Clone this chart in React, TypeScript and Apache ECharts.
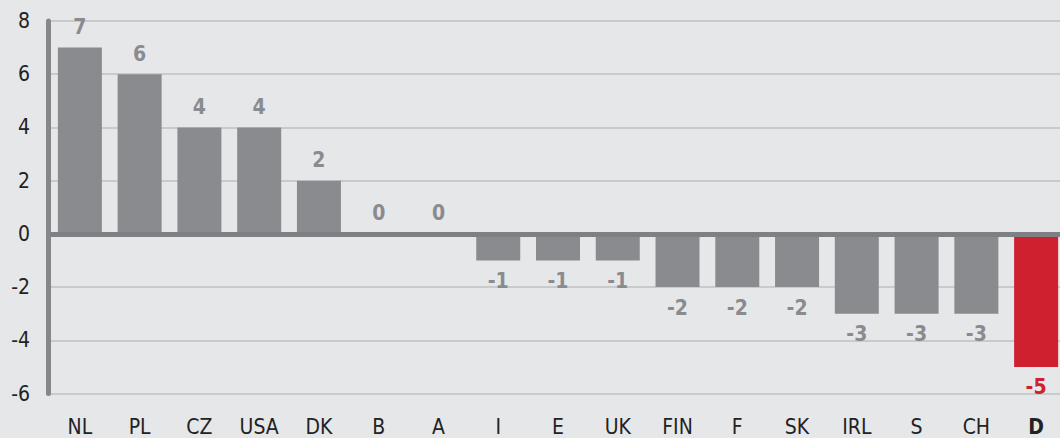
import React, { useEffect, useRef } from "react";
import * as echarts from "echarts";

const categories = ["NL", "PL", "CZ", "USA", "DK", "B", "A", "I", "E", "UK", "FIN", "F", "SK", "IRL", "S", "CH", "D"];
const values = [7, 6, 4, 4, 2, 0, 0, -1, -1, -1, -2, -2, -2, -3, -3, -3, -5];
const highlight = "D";
const yTicks = { min: -6, max: 8, interval: 2 };

const GRAY = "#8a8b8e";
const RED = "#cf2030";
const FONT = "'Liberation Sans Narrow', 'DejaVu Sans Condensed', sans-serif";
const FS = 21;

export default function App() {
  const ref = useRef<HTMLDivElement>(null);
  useEffect(() => {
    if (!ref.current) return;
    const chart = echarts.init(ref.current, undefined, { renderer: "svg" });
    const data = values.map((v, i) => {
      const hl = categories[i] === highlight;
      return {
        value: v,
        itemStyle: { color: hl ? RED : GRAY },
        label: {
          show: true,
          position: v < 0 ? "bottom" : "top",
          distance: 10,
          color: hl ? RED : GRAY,
          fontWeight: "bold",
          fontSize: FS,
          fontFamily: FONT,
        },
      };
    });
    chart.setOption({
      animation: false,
      backgroundColor: "#e6e7e9",
      grid: { left: 50, top: 21, right: 14, bottom: 44.5, containLabel: false },
      xAxis: {
        type: "category",
        data: categories,
        axisLine: { show: false },
        axisTick: { show: false },
        axisLabel: {
          interval: 0,
          margin: 23,
          fontSize: FS,
          color: "#222",
          fontFamily: FONT,
          formatter: (v: string) => (v === highlight ? `{b|${v}}` : v),
          rich: { b: { fontWeight: "bold", fontSize: FS, color: "#222", fontFamily: FONT } },
        },
      },
      yAxis: {
        type: "value",
        min: yTicks.min,
        max: yTicks.max,
        interval: yTicks.interval,
        offset: 2,
        axisLine: { show: true, lineStyle: { color: "#86878a", width: 5 } },
        axisTick: { show: false },
        axisLabel: { margin: 18, fontSize: FS, color: "#222", fontFamily: FONT },
        splitLine: { show: true, lineStyle: { color: "#c9cacc", width: 2 } },
      },
      series: [
        {
          type: "bar",
          data,
          barWidth: 44,
          markLine: {
            silent: true,
            symbol: "none",
            label: { show: false },
            lineStyle: { color: "#7f8083", width: 5, type: "solid" },
            data: [{ yAxis: 0 }],
          },
        },
      ],
    });
    return () => chart.dispose();
  }, []);
  return (
    <div style={{ position: "fixed", left: 0, top: 0, width: 1060, height: 438, overflow: "hidden" }}>
      <div ref={ref} style={{ width: 1080, height: 438 }} />
    </div>
  );
}
